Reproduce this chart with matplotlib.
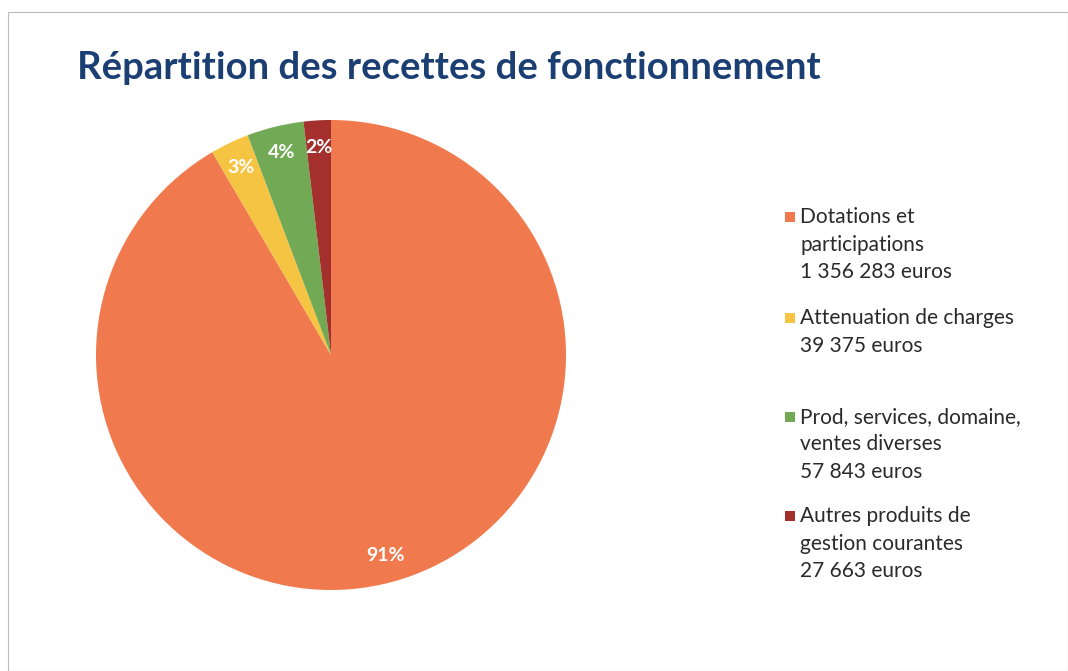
import matplotlib
matplotlib.use("Agg")
import matplotlib.pyplot as plt
from matplotlib.patches import Rectangle
import numpy as np

categories = ["Dotations et\nparticipations", "Attenuation de charges", "Prod, services, domaine,\nventes diverses", "Autres produits de\ngestion courantes"]
amounts = [1356283, 39375, 57843, 27663]
amount_labels = ["1 356 283 euros", "39 375 euros", "57 843 euros", "27 663 euros"]
pct_labels = ["91%", "3%", "4%", "2%"]
colors = ["#F07A4E", "#F6C443", "#72A955", "#A3302C"]

plt.rcParams['font.family'] = ['Lato', 'DejaVu Sans']

W, H = 1068, 671
fig = plt.figure(figsize=(W/100, H/100), dpi=100)
fig.patch.set_facecolor("white")

# border
fig.add_artist(Rectangle((8/W, 0), 1 - 8/W, 1 - 12/H, transform=fig.transFigure,
                         fill=False, edgecolor="#BBBBBB", linewidth=0.8))

fig.text(77/W, 1 - 68/H, "Répartition des recettes de fonctionnement",
         fontsize=27.5, fontweight="bold", color="#1B3F73", va="center", ha="left")

cx, cy, r = 331, 355, 235
ax = fig.add_axes([(cx - r)/W, (H - cy - r)/H, 2*r/W, 2*r/H])
wedges, _ = ax.pie(amounts, colors=colors, startangle=90, counterclock=False,
                   radius=1.0, wedgeprops=dict(linewidth=0))
for w, lab in zip(wedges, pct_labels):
    ang = np.deg2rad((w.theta1 + w.theta2) / 2)
    ax.text(0.885*np.cos(ang), 0.885*np.sin(ang), lab, ha="center", va="center",
            color="white", fontsize=14, fontweight="bold")
ax.set_xlim(-1, 1)
ax.set_ylim(-1, 1)
ax.set_aspect("equal")
ax.axis("off")

# legend
entry_y = [217, 318, 417, 516]
line_h = 27.5
for i, (cat, amt) in enumerate(zip(categories, amount_labels)):
    y0 = entry_y[i]
    fig.add_artist(Rectangle((785/W, 1 - (y0 + 5)/H), 10/W, 10/H, transform=fig.transFigure,
                             facecolor=colors[i], edgecolor="none"))
    lines = cat.split("\n") + [amt]
    for j, ln in enumerate(lines):
        fig.text(800/W, 1 - (y0 + j*line_h)/H, ln, fontsize=15, color="#2A2A2A",
                 va="center", ha="left")

fig.savefig("out.png", dpi=100)
